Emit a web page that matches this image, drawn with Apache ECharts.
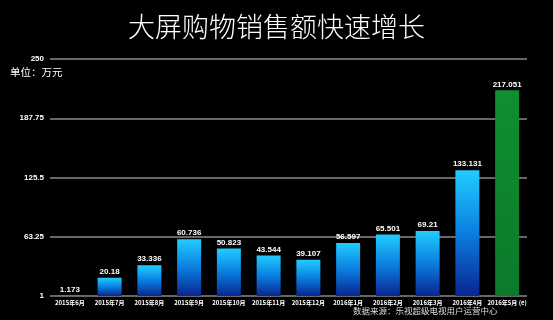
<!DOCTYPE html>
<html><head><meta charset="utf-8">
<script src="https://cdn.jsdelivr.net/npm/echarts@6/dist/echarts.min.js"></script>
<style>html,body{margin:0;padding:0;background:#000;}#c{width:553px;height:320px;}</style>
</head><body><div id="c"></div>
<script>
const categories = ['2015年6月','2015年7月','2015年8月','2015年9月','2015年10月','2015年11月','2015年12月','2016年1月','2016年2月','2016年3月','2016年4月','2016年5月 (e)'];
const values = [1.173, 20.18, 33.336, 60.736, 50.823, 43.544, 39.107, 56.597, 65.501, 69.21, 133.131, 217.051];
const yTicks = [1, 63.25, 125.5, 187.75, 250];
const titleText = '大屏购物销售额快速增长';
const unitText = '单位：万元';
const sourceText = '数据来源：乐视超级电视用户运营中心';

const chart = echarts.init(document.getElementById('c'));
const blueGrad = new echarts.graphic.LinearGradient(0,0,0,1,[{offset:0,color:'#22ccff'},{offset:0.5,color:'#0a7ee0'},{offset:1,color:'#0a2590'}]);
const greenGrad = new echarts.graphic.LinearGradient(0,0,0,1,[{offset:0,color:'#0e8f30'},{offset:1,color:'#0c7a2a'}]);
chart.setOption({
  backgroundColor:'#000',
  animation:false,
  title:{text:titleText,left:'center',top:8,textStyle:{color:'#fff',fontSize:27,fontWeight:300,fontFamily:'Noto Sans CJK SC'}},
  graphic:[
    {type:'text',left:10,top:67,style:{text:unitText,fill:'#fff',fontSize:10.5,fontFamily:'Noto Sans CJK SC'}},
    {type:'text',left:353,top:307,style:{text:sourceText,fill:'#ddd',fontSize:8.5,fontFamily:'Noto Sans CJK SC'}}
  ],
  grid:{left:50,right:26,top:59,bottom:24},
  xAxis:{type:'category',data:categories,axisLine:{show:false},axisTick:{show:false},
    axisLabel:{color:'#fff',fontSize:6,fontWeight:'bold',interval:0,margin:4,fontFamily:'Noto Sans CJK SC'}},
  yAxis:{type:'value',min:1,max:250,
    axisLine:{show:false},
    axisTick:{show:false,customValues:yTicks},
    axisLabel:{customValues:yTicks,color:'#fff',fontSize:8,fontWeight:'bold',margin:6,fontFamily:'Arial'},
    splitLine:{show:true,lineStyle:{color:'#8a8a8a',width:1.5}}},
  series:[{type:'bar',barWidth:24,
    data:values.map((v,i)=>({value:v,itemStyle:{color:i===values.length-1?greenGrad:blueGrad}})),
    label:{show:true,position:'top',distance:2,color:'#fff',fontSize:8,fontWeight:'bold',fontFamily:'Arial'}}]
});
</script></body></html>
